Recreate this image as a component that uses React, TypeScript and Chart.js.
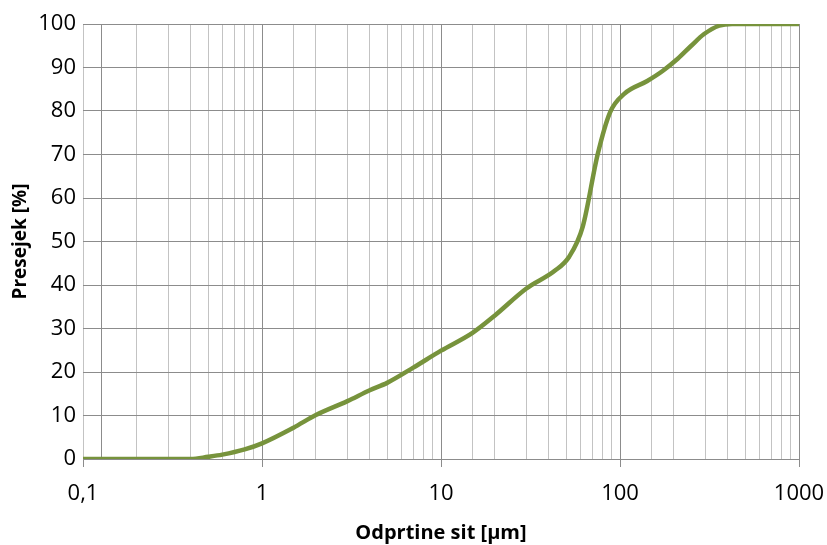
import React, { useEffect, useRef } from "react";
import { Chart, registerables } from "chart.js";

Chart.register(...registerables);

// Sieve opening sizes [µm] and cumulative passing [%]
const sieveSizes: number[] = [
  0.1, 0.2, 0.3, 0.4, 0.5, 0.6, 0.8, 1, 1.5, 2, 3, 4, 5, 7, 10, 15, 20, 30, 43, 52,
  62, 75, 88, 106, 142, 173, 210, 250, 295, 358, 423, 500, 1000,
];
const passing: number[] = [
  0, 0, 0, 0, 0.5, 1.0, 2.2, 3.6, 7.2, 10.1, 13.3, 15.8, 17.5, 21.0, 24.9, 29.0, 33.0,
  39.2, 43.2, 46.5, 53.5, 70.0, 79.7, 84.0, 86.9, 89.2, 92.0, 95.0, 97.7, 99.6, 100,
  100, 100,
];

// Axis limits and labels
const xMin = 0.1;
const xMax = 1000;
const yTicks: number[] = [0, 10, 20, 30, 40, 50, 60, 70, 80, 90, 100];
const xTitle = "Odprtine sit [µm]";
const yTitle = "Presejek [%]";
// value axis crosses the category axis here
const valueAxisCross = 0.126;

const LINE_COLOR = "#77933C";
const MAJOR_GRID = "#8c8c8c";
const MINOR_GRID = "#c3c3c3";
const FONT = "'Open Sans', 'Liberation Sans', sans-serif";

const isDecade = (v: number) => Math.abs(Math.log10(v) - Math.round(Math.log10(v))) < 1e-9;

const valueAxisLine = {
  id: "valueAxisLine",
  beforeDatasetsDraw(chart: any) {
    const { ctx, chartArea, scales } = chart;
    const x = Math.round(scales.x.getPixelForValue(valueAxisCross)) + 0.5;
    ctx.save();
    ctx.strokeStyle = MAJOR_GRID;
    ctx.lineWidth = 1;
    ctx.beginPath();
    ctx.moveTo(x, chartArea.top);
    ctx.lineTo(x, chartArea.bottom);
    ctx.stroke();
    ctx.restore();
  },
};

export default function App() {
  const canvasRef = useRef<HTMLCanvasElement | null>(null);

  useEffect(() => {
    if (!canvasRef.current) return;
    const chart = new Chart(canvasRef.current, {
      type: "line",
      data: {
        datasets: [
          {
            data: sieveSizes.map((s, i) => ({ x: s, y: passing[i] })),
            borderColor: LINE_COLOR,
            borderWidth: 4.5,
            pointRadius: 0,
            cubicInterpolationMode: "monotone",
            fill: false,
          },
        ],
      },
      plugins: [valueAxisLine],
      options: {
        animation: false,
        responsive: false,
        maintainAspectRatio: false,
        layout: { padding: { left: 0, right: 28, top: 24, bottom: 0 } },
        plugins: { legend: { display: false }, tooltip: { enabled: false } },
        scales: {
          x: {
            type: "logarithmic",
            min: xMin,
            max: xMax,
            border: { display: false },
            grid: {
              color: (c: any) =>
                c.tick && isDecade(c.tick.value) && c.tick.value > xMin ? MAJOR_GRID : MINOR_GRID,
              tickColor: (c: any) => (c.tick && isDecade(c.tick.value) ? MAJOR_GRID : "rgba(0,0,0,0)"),
              tickLength: 8,
              lineWidth: 1,
            },
            ticks: {
              autoSkip: false,
              maxRotation: 0,
              padding: 14,
              color: "#000",
              font: { family: FONT, size: 22 },
              callback: (v: any) => {
                const n = Number(v);
                return isDecade(n) ? String(n).replace(".", ",") : "";
              },
            },
            title: {
              display: true,
              text: xTitle,
              color: "#000",
              font: { family: FONT, size: 20, weight: "bold" },
              padding: { top: 10, bottom: 0 },
            },
            afterFit: (s: any) => {
              s.height = 86;
              s.paddingLeft = 0;
              s.paddingRight = 0;
            },
          },
          y: {
            min: 0,
            max: 100,
            border: { display: false },
            afterBuildTicks: (s: any) => {
              s.ticks = yTicks.map((v) => ({ value: v }));
            },
            grid: { color: MAJOR_GRID, lineWidth: 1, drawTicks: false },
            ticks: {
              padding: 7,
              color: "#000",
              font: { family: FONT, size: 22 },
            },
            title: {
              display: true,
              text: yTitle,
              color: "#000",
              font: { family: FONT, size: 19, weight: "bold" },
              padding: { top: 9, bottom: 0 },
            },
            afterFit: (s: any) => {
              s.width = 83;
              s.paddingTop = 0;
              s.paddingBottom = 0;
            },
          },
        },
      },
    } as any);
    return () => chart.destroy();
  }, []);

  return (
    <div style={{ position: "fixed", left: 0, top: 0, width: 827, height: 545, background: "#fff" }}>
      <canvas ref={canvasRef} width={827} height={545} style={{ display: "block" }} />
    </div>
  );
}
